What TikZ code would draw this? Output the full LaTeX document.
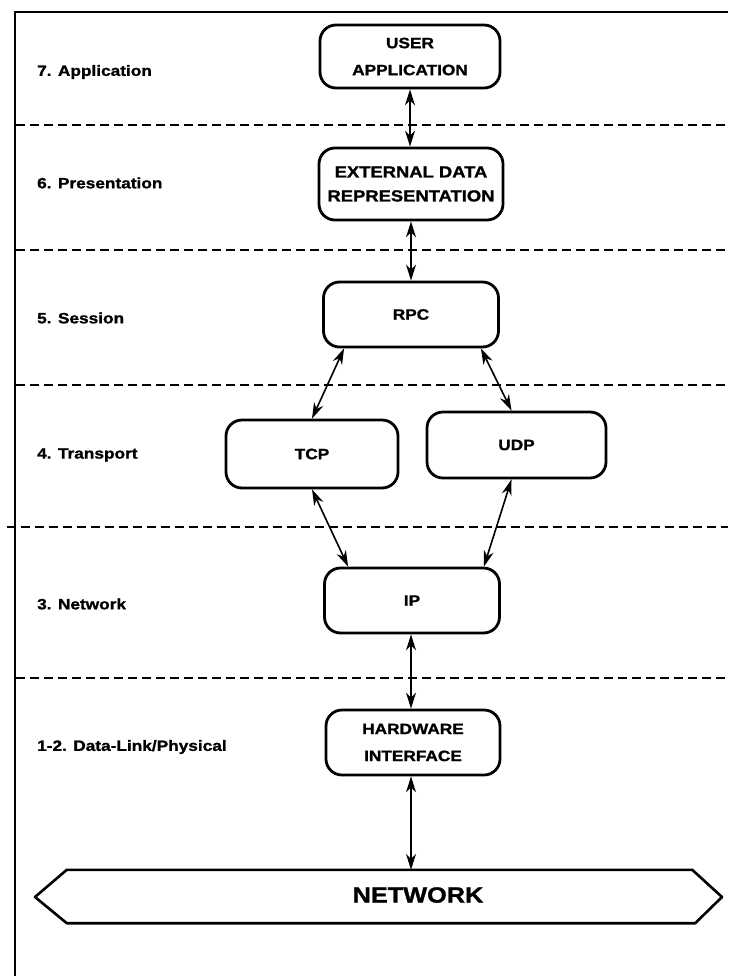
\documentclass[tikz,border=0pt]{standalone}
\usepackage{fontspec}
\newfontfamily\lbl{Liberation Sans}[FakeStretch=1.15,FakeBold=1.2]
\usetikzlibrary{arrows.meta}
\begin{document}
\begin{tikzpicture}[x=1pt,y=-1pt,
  layer/.style={font=\lbl\bfseries\fontsize{15}{18}\selectfont, anchor=west, inner sep=0pt},
  box/.style={draw, line width=2.8pt, rounded corners=16pt, inner sep=0pt,
              align=center, font=\lbl\bfseries\fontsize{15}{27}\selectfont},
  arr/.style={{Stealth[length=16pt,width=10pt]}-{Stealth[length=16pt,width=10pt]}, line width=1.6pt},
  sep/.style={dash pattern=on 9pt off 5pt, line width=1.7pt},
  frame/.style={line width=2.6pt}]
\useasboundingbox (0,0) rectangle (728,976);

% outer frame (top and left edges)
\coordinate (ftl) at (15,12);
\coordinate (ftr) at (728,12);
\coordinate (fbl) at (15,976);
\draw[frame] (ftr) -- (ftl) -- (fbl);

% layer separators
\coordinate (s1a) at (16,125);  \coordinate (s1b) at (728,125);
\coordinate (s2a) at (16,250);  \coordinate (s2b) at (728,250);
\coordinate (s3a) at (16,385);  \coordinate (s3b) at (728,385);
\coordinate (s4a) at (7,527);   \coordinate (s4b) at (728,527);
\coordinate (s5a) at (16,678);  \coordinate (s5b) at (728,678);
\draw[sep] (s1a) -- (s1b);
\draw[sep] (s2a) -- (s2b);
\draw[sep] (s3a) -- (s3b);
\draw[sep] (s4a) -- (s4b);
\draw[sep] (s5a) -- (s5b);

% OSI layer names
\node[layer] (l7) at (37,72)  {7. Application};
\node[layer] (l6) at (37,183) {6. Presentation};
\node[layer] (l5) at (37,318) {5. Session};
\node[layer] (l4) at (37,455) {4. Transport};
\node[layer] (l3) at (37,604) {3. Network};
\node[layer] (l1) at (37,747) {1-2. Data-Link/Physical};

% protocol boxes
\node[box, minimum width=180pt, minimum height=63pt] (user) at (410,56.5) {USER\\APPLICATION};
\node[box, minimum width=184pt, minimum height=72pt, font=\lbl\bfseries\fontsize{16}{24}\selectfont] (xdr) at (411,184) {EXTERNAL DATA\\REPRESENTATION};
\node[box, minimum width=175pt, minimum height=65pt] (rpc) at (411,314.5) {RPC};
\node[box, minimum width=172pt, minimum height=68pt] (tcp) at (312,454) {TCP};
\node[box, minimum width=179pt, minimum height=66pt] (udp) at (516.5,445) {UDP};
\node[box, minimum width=175pt, minimum height=65pt] (ip)  at (412,600.5) {IP};
\node[box, minimum width=174pt, minimum height=65pt] (hw)  at (413,742.5) {HARDWARE\\INTERFACE};

% network bus
\node[minimum width=629pt, minimum height=53pt, inner sep=0pt] (net) at (381.5,896.5) {};
\node[font=\lbl\bfseries\fontsize{22}{26}\selectfont, inner sep=0pt] (netlbl) at (418,895) {NETWORK};
\coordinate (netl) at (35,897);
\coordinate (netr) at (722,897);
\draw[line width=2.6pt, line join=round]
  (netl) -- (net.north west) -- ([xshift=-4pt]net.north east) -- (netr)
  -- ([xshift=-1pt]net.south east) -- (net.south west) -- cycle;

% connections between layers
\draw[arr] (user.south) -- (user.south |- xdr.north);
\draw[arr] (xdr.south) -- (xdr.south |- rpc.north);
\draw[arr] ([xshift=22pt]rpc.south west) -- (tcp.north);
\draw[arr] ([xshift=-19pt]rpc.south east) -- ([xshift=-5pt]udp.north);
\draw[arr] (tcp.south) -- ([xshift=25pt]ip.north west);
\draw[arr] ([xshift=-5pt]udp.south) -- ([xshift=-17pt]ip.north east);
\draw[arr] ([xshift=-1pt]ip.south) -- ([xshift=-1pt]ip.south |- hw.north);
\draw[arr] ([xshift=-2pt]hw.south) -- ([xshift=-2pt]hw.south |- net.north);
\end{tikzpicture}
\end{document}
